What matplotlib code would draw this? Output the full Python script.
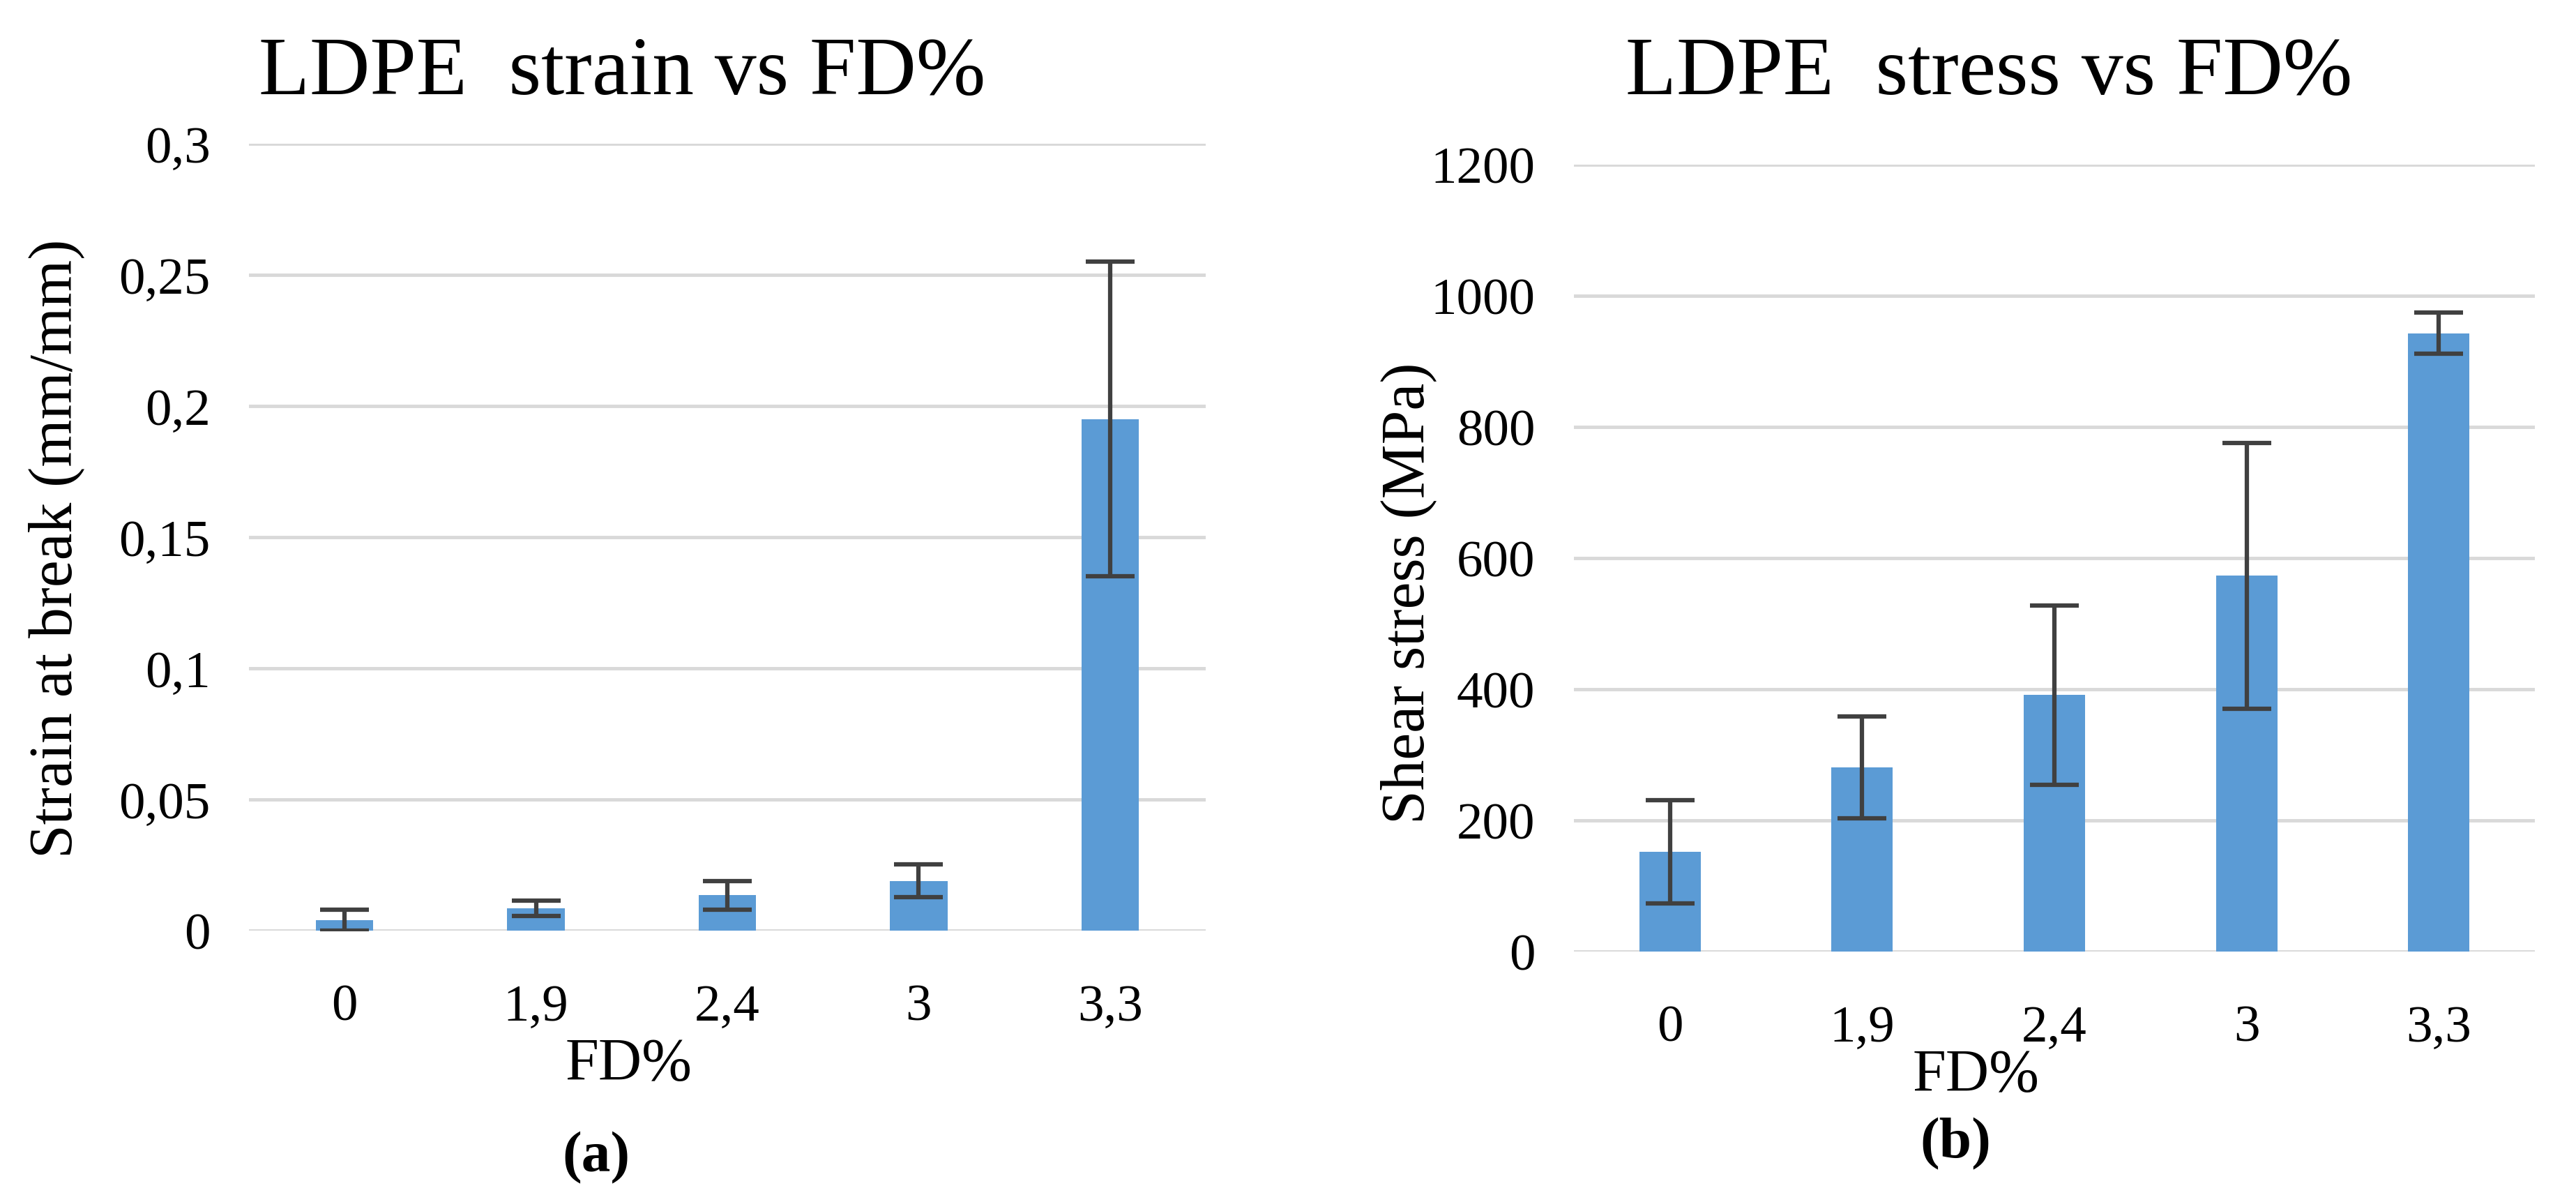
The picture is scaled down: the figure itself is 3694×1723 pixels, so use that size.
import matplotlib
matplotlib.use("Agg")
from matplotlib import pyplot as plt
from matplotlib.ticker import FuncFormatter

# data
fd_labels = ["0", "1,9", "2,4", "3", "3,3"]

strain = [0.004, 0.0085, 0.0135, 0.019, 0.195]
strain_err = [0.004, 0.003, 0.0055, 0.0063, 0.06]

stress = [152, 281, 391, 573, 943]
stress_err = [79, 78, 137, 203, 31]

W, H = 3694, 1724
DPI = 100

BAR = "#5B9BD5"
ERR = "#404040"
GRID = "#D9D9D9"
FONT = "Liberation Serif"


def comma(v, pos):
    s = ("%g" % v).replace(".", ",")
    return s


def style_axes(ax, ymax, step):
    ax.set_xlim(-0.5, len(fd_labels) - 0.5)
    ax.set_ylim(0, ymax)
    ax.set_yticks([i * step for i in range(int(round(ymax / step)) + 1)])
    ax.yaxis.set_major_formatter(FuncFormatter(comma))
    ax.set_xticks(range(len(fd_labels)))
    ax.set_xticklabels(fd_labels)
    for s in ax.spines.values():
        s.set_visible(False)
    ax.set_axisbelow(True)
    ax.grid(axis="y", color=GRID, linewidth=3.5)
    ax.tick_params(axis="both", length=0, labelsize=54, colors="#000000")
    ax.tick_params(axis="y", pad=40)
    ax.tick_params(axis="x", pad=55)
    for lab in ax.get_xticklabels() + ax.get_yticklabels():
        lab.set_fontfamily(FONT)


def draw(ax, vals, errs, width):
    x = range(len(fd_labels))
    ax.bar(x, vals, width=width, color=BAR, zorder=2)
    ax.errorbar(x, vals, yerr=errs, fmt="none", ecolor=ERR, elinewidth=4.5,
                capsize=25, capthick=4.5, zorder=3)


fig = plt.figure(figsize=(W / DPI, H / DPI), dpi=DPI)


def px(x, y):
    return x / W, 1 - y / H


# (a) strain
ax1 = fig.add_axes([357 / W, 1 - 1335 / H, 1372 / W, 1128 / H])
draw(ax1, strain, strain_err, 0.30)
style_axes(ax1, 0.3, 0.05)
ax1.set_ylabel("Strain at break (mm/mm)", fontsize=63, fontfamily=FONT)
ax1.yaxis.set_label_coords(-0.172, 0.486)

# (b) stress
ax2 = fig.add_axes([2257 / W, 1 - 1365 / H, 1378 / W, 1128 / H])
draw(ax2, stress, stress_err, 0.32)
style_axes(ax2, 1200, 200)
ax2.set_ylabel("Shear stress (MPa)", fontsize=63, fontfamily=FONT)
ax2.yaxis.set_label_coords(-0.143, 0.456)

fig.text(*px(892, 106), "LDPE  strain vs FD%", fontsize=86, fontfamily=FONT,
         ha="center", va="center")
fig.text(*px(2852, 106), "LDPE  stress vs FD%", fontsize=86, fontfamily=FONT,
         ha="center", va="center")

fig.text(*px(902, 1527), "FD%", fontsize=62, fontfamily=FONT, ha="center", va="center")
fig.text(*px(2834, 1543), "FD%", fontsize=62, fontfamily=FONT, ha="center", va="center")

fig.text(*px(855, 1660), "(a)", fontsize=60, fontfamily=FONT, fontweight="bold",
         ha="center", va="center")
fig.text(*px(2804, 1640), "(b)", fontsize=60, fontfamily=FONT, fontweight="bold",
         ha="center", va="center")

fig.savefig("out.png", dpi=DPI, facecolor="white")
